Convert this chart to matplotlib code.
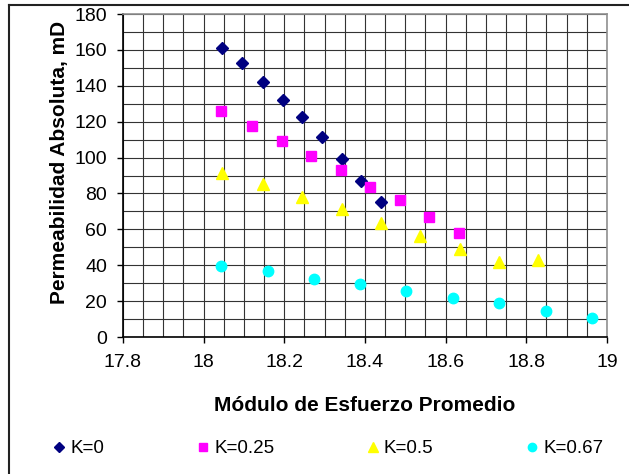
import numpy as np
import matplotlib
matplotlib.use("Agg")
import matplotlib.pyplot as plt
from matplotlib.ticker import MultipleLocator, FuncFormatter
from matplotlib.lines import Line2D

plt.rcParams['font.family'] = ['Liberation Sans', 'DejaVu Sans']

# Series
x_k0 = [18.046, 18.096, 18.146, 18.196, 18.243, 18.293, 18.342, 18.389, 18.439]
y_k0 = [161.3, 152.6, 142.0, 132.1, 122.5, 111.3, 99.2, 87.0, 75.4]

x_k025 = [18.043, 18.119, 18.194, 18.266, 18.340, 18.412, 18.487, 18.559, 18.633]
y_k025 = [126.0, 117.8, 109.4, 101.1, 92.9, 83.6, 76.2, 66.9, 57.8]

x_k05 = [18.046, 18.146, 18.243, 18.342, 18.439, 18.536, 18.636, 18.733, 18.829]
y_k05 = [91.6, 85.1, 78.2, 71.2, 63.4, 56.3, 48.9, 42.0, 42.9]

x_k067 = [18.043, 18.159, 18.274, 18.388, 18.502, 18.617, 18.733, 18.848, 18.962]
y_k067 = [39.6, 36.6, 32.5, 29.7, 25.6, 21.6, 19.0, 14.7, 10.6]

labels = ["K=0", "K=0.25", "K=0.5", "K=0.67"]

fig = plt.figure(figsize=(6.29, 4.74), dpi=100)
ax = fig.add_axes([0.1955, 0.289, 0.7695, 0.6814])

ax.plot(x_k0, y_k0, linestyle="none", marker="D", markersize=6.5, color="#000080", label=labels[0])
ax.plot(x_k025, y_k025, linestyle="none", marker="s", markersize=7.5, color="#FF00FF", label=labels[1])
ax.plot(x_k05, y_k05, linestyle="none", marker="^", markersize=8.5, color="#FFFF00", label=labels[2])
ax.plot(x_k067, y_k067, linestyle="none", marker="o", markersize=7.5, color="#00FFFF", label=labels[3])

ax.set_xlim(17.8, 19)
ax.set_ylim(0, 180)
ax.xaxis.set_major_locator(MultipleLocator(0.2))
ax.xaxis.set_minor_locator(MultipleLocator(0.05))
ax.yaxis.set_major_locator(MultipleLocator(20))
ax.yaxis.set_minor_locator(MultipleLocator(10))
ax.xaxis.set_major_formatter(FuncFormatter(lambda v, p: f"{v:g}"))

ax.grid(True, which="both", color="#333333", linewidth=0.8)
ax.set_axisbelow(True)
ax.tick_params(which="major", direction="out", length=4.5, width=1, labelsize=14, colors="black")
ax.tick_params(which="minor", length=0)
ax.tick_params(axis="x", pad=8)
ax.tick_params(axis="y", pad=7)

for s in ["left", "bottom"]:
    ax.spines[s].set_color("black")
    ax.spines[s].set_linewidth(1.2)
for s in ["top", "right"]:
    ax.spines[s].set_color("#909090")
    ax.spines[s].set_linewidth(1.2)

ax.set_xlabel("Módulo de Esfuerzo Promedio", fontsize=15, fontweight="bold")
ax.set_ylabel("Permeabilidad Absoluta, mD", fontsize=15, fontweight="bold")
ax.xaxis.set_label_coords(0.5, -0.183)
ax.yaxis.set_label_coords(-0.112, 0.542)

fig.legend(loc="center left", bbox_to_anchor=(0.072, 0.053), ncol=4, frameon=False,
           fontsize=13.5, handlelength=0.7, handletextpad=0.25, columnspacing=4.9,
           markerscale=0.8, borderaxespad=0)

# chart area border (top and left edges visible)
fig.add_artist(Line2D([9 / 629, 9 / 629], [0, 1 - 5 / 474], color="#222222", linewidth=1.5,
                      transform=fig.transFigure))
fig.add_artist(Line2D([9 / 629, 1], [1 - 5 / 474, 1 - 5 / 474], color="#222222", linewidth=1.5,
                      transform=fig.transFigure))

fig.savefig("out.png", dpi=100)
